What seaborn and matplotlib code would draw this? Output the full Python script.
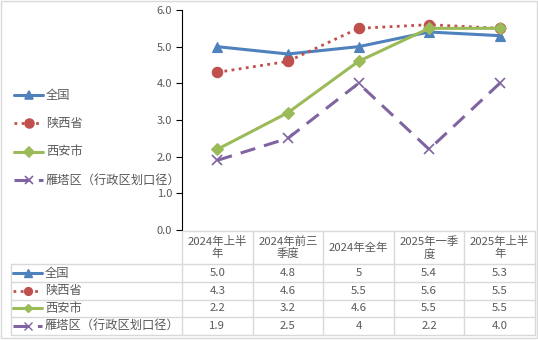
import matplotlib
matplotlib.use("Agg")
import matplotlib.pyplot as plt
from matplotlib.lines import Line2D
from matplotlib.patches import Rectangle
import pandas as pd
import seaborn as sns

periods = ["2024年上半年", "2024年前三季度", "2024年全年", "2025年一季度", "2025年上半年"]
period_labels = ["2024年上半\n年", "2024年前三\n季度", "2024年全年", "2025年一季\n度", "2025年上半\n年"]
series_names = ["全国", "陕西省", "西安市", "雁塔区（行政区划口径）"]

national = [5.0, 4.8, 5.0, 5.4, 5.3]
shaanxi = [4.3, 4.6, 5.5, 5.6, 5.5]
xian = [2.2, 3.2, 4.6, 5.5, 5.5]
yanta = [1.9, 2.5, 4.0, 2.2, 4.0]

# table cells, written as they appear in the sheet
national_text = ["5.0", "4.8", "5", "5.4", "5.3"]
shaanxi_text = ["4.3", "4.6", "5.5", "5.6", "5.5"]
xian_text = ["2.2", "3.2", "4.6", "5.5", "5.5"]
yanta_text = ["1.9", "2.5", "4", "2.2", "4.0"]

y_ticks = [0, 1, 2, 3, 4, 5, 6]

styles = {
    "全国": dict(color="#4F81BD", marker="^", linestyle="-", lw=2.2, ms=7.5),
    "陕西省": dict(color="#C0504D", marker="o", linestyle=(0, (1, 1.6)), lw=2.0, ms=7.5),
    "西安市": dict(color="#9BBB59", marker="D", linestyle="-", lw=2.2, ms=6),
    "雁塔区（行政区划口径）": dict(color="#8064A2", marker="x", linestyle=(0, (5, 3)), lw=2.2, ms=7.5),
}

rows = []
for name, vals in zip(series_names, [national, shaanxi, xian, yanta]):
    for i, v in enumerate(vals):
        rows.append({"series": name, "pos": i, "period": periods[i], "value": v})
df = pd.DataFrame(rows)

sns.set_style("white")
plt.rcParams["font.family"] = ["Noto Sans CJK SC", "DejaVu Sans"]

W, H = 538, 340
fig = plt.figure(figsize=(W / 100, H / 100), dpi=100)


def fx(px):
    return px / W


def fy(py):
    return 1 - py / H


text_color = "#595959"
grid_color = "#D9D9D9"

# outer chart border
fig.add_artist(Rectangle((fx(0.5), fy(337.5)), fx(536.5), fy(0.5) - fy(337.5),
                         transform=fig.transFigure, fill=False, ec=grid_color, lw=1))

col_left, col_right = 182, 535
ax = fig.add_axes([fx(col_left), fy(230), fx(col_right) - fx(col_left), fy(10) - fy(230)])
ax.set_facecolor("none")

for name in series_names:
    st = styles[name]
    sub = df[df["series"] == name]
    sns.lineplot(data=sub, x="pos", y="value", ax=ax, color=st["color"],
                 marker=st["marker"], linestyle=st["linestyle"], linewidth=st["lw"],
                 markersize=st["ms"], markeredgecolor=st["color"],
                 markeredgewidth=1.2 if st["marker"] == "x" else 0.8,
                 sort=False, legend=False)

ax.set_xlim(-0.5, 4.5)
ax.set_ylim(0, 6)
ax.set_yticks(y_ticks)
ax.set_yticklabels([f"{t:.1f}" for t in y_ticks], color=text_color, fontsize=8)
ax.set_xticks([])
ax.set_xlabel("")
ax.set_ylabel("")
for s in ["top", "right", "bottom"]:
    ax.spines[s].set_visible(False)
ax.spines["left"].set_color("#000000")
ax.spines["left"].set_linewidth(0.8)
ax.tick_params(axis="y", direction="out", length=4, width=0.8, color="#000000", pad=3, left=True)

# legend on the left
legend_y = [95, 123, 152, 180]
for name, y in zip(series_names, legend_y):
    st = styles[name]
    fig.add_artist(Line2D([fx(14), fx(43)], [fy(y), fy(y)], transform=fig.transFigure,
                          color=st["color"], linestyle=st["linestyle"], lw=st["lw"]))
    fig.add_artist(Line2D([fx(28.5)], [fy(y)], transform=fig.transFigure, color=st["color"],
                          marker=st["marker"], ms=st["ms"] * 0.85, mec=st["color"], mew=1.2))
    fig.text(fx(46), fy(y), name, color=text_color, fontsize=8.8, va="center", ha="left")

# data table
col_w = (col_right - col_left) / 5
row_lines = [264, 282, 299.5, 317, 334.5]
tbl_left = 10.5
fig.add_artist(Line2D([fx(col_left), fx(col_right)], [fy(231), fy(231)],
                      transform=fig.transFigure, color=grid_color, lw=1))
for y in row_lines:
    fig.add_artist(Line2D([fx(tbl_left), fx(col_right)], [fy(y), fy(y)],
                          transform=fig.transFigure, color=grid_color, lw=1))
for i in range(6):
    x = col_left + i * col_w
    fig.add_artist(Line2D([fx(x), fx(x)], [fy(231), fy(334.5)],
                          transform=fig.transFigure, color=grid_color, lw=1))
fig.add_artist(Line2D([fx(tbl_left), fx(tbl_left)], [fy(264), fy(334.5)],
                      transform=fig.transFigure, color=grid_color, lw=1))

for i, lab in enumerate(period_labels):
    cx = col_left + (i + 0.5) * col_w
    fig.text(fx(cx), fy(247.5), lab, color=text_color, fontsize=8.2, ha="center", va="center",
             linespacing=1.15)

table_text = [national_text, shaanxi_text, xian_text, yanta_text]
for r, (name, texts) in enumerate(zip(series_names, table_text)):
    cy = (row_lines[r] + row_lines[r + 1]) / 2
    st = styles[name]
    fig.add_artist(Line2D([fx(13), fx(42)], [fy(cy), fy(cy)], transform=fig.transFigure,
                          color=st["color"], linestyle=st["linestyle"], lw=st["lw"]))
    fig.add_artist(Line2D([fx(27.5)], [fy(cy)], transform=fig.transFigure, color=st["color"],
                          marker=st["marker"], ms=st["ms"] * 0.75, mec=st["color"], mew=1.0))
    fig.text(fx(45), fy(cy), name, color=text_color, fontsize=8.8, va="center", ha="left")
    for i, t in enumerate(texts):
        cx = col_left + (i + 0.5) * col_w
        fig.text(fx(cx), fy(cy), t, color=text_color, fontsize=8.2, ha="center", va="center")

fig.savefig("out.png", dpi=100)
